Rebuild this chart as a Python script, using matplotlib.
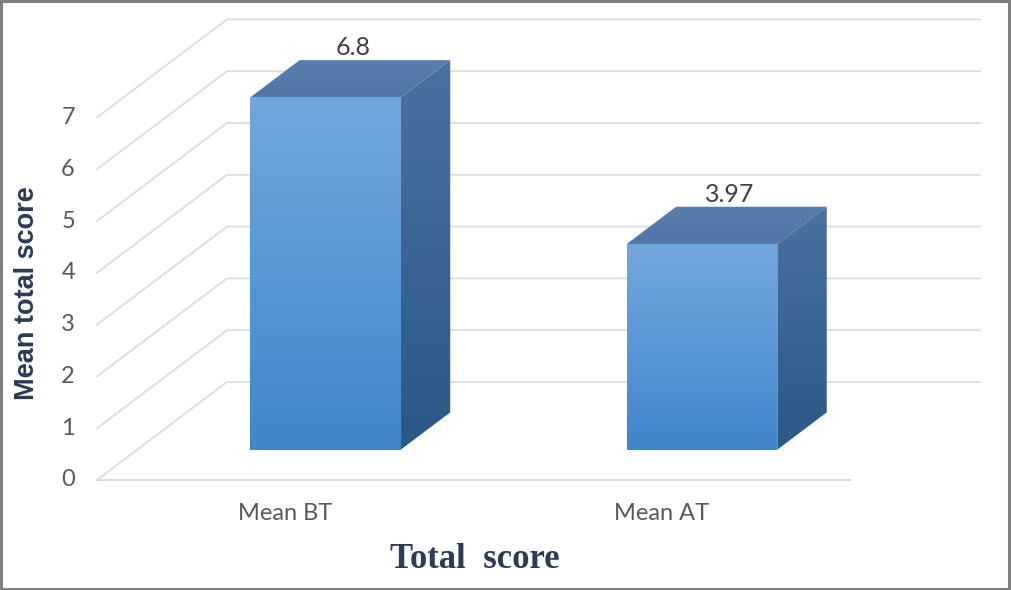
import numpy as np
import matplotlib.pyplot as plt
from matplotlib.patches import Polygon, Rectangle
from matplotlib.colors import LinearSegmentedColormap

categories = ['Mean BT', 'Mean AT']
values = [6.8, 3.97]
value_labels = ['6.8', '3.97']
y_ticks = [0, 1, 2, 3, 4, 5, 6, 7]

W, H = 1011, 590
fig = plt.figure(figsize=(W / 100, H / 100), dpi=100)
ax = fig.add_axes([0, 0, 1, 1])
ax.set_xlim(0, W)
ax.set_ylim(H, 0)
ax.axis('off')

# oblique (excel style) projection of the plot box, in pixels
x_left, x_right = 97, 850
y_base, unit = 480, 51.8
depth_dx, depth_dy = 130, -98
n = len(categories)


def proj(cat_pos, value, depth):
    x = x_left + cat_pos * (x_right - x_left) / n + depth * depth_dx
    y = y_base - value * unit + depth * depth_dy
    return x, y


grid_col = '#dcdcdc'
for v in y_ticks:
    pts = np.array([proj(0, v, 0), proj(0, v, 1), proj(n, v, 1)])
    ax.plot(pts[:, 0], pts[:, 1], color=grid_col, lw=1.3, zorder=1)
    tx, ty = proj(0, v, 0)
    ax.text(tx - 22, ty, str(v), ha='right', va='center', fontsize=17,
            color='#595959', family='Lato')
floor = np.array([proj(0, 0, 0), proj(n, 0, 0)])
ax.plot(floor[:, 0], floor[:, 1], color=grid_col, lw=1.5, zorder=1)


def grad_face(corners, c_top, c_bot, z):
    poly = Polygon(corners, closed=True, facecolor='none', edgecolor='none')
    ax.add_patch(poly)
    xs, ys = corners[:, 0], corners[:, 1]
    cmap = LinearSegmentedColormap.from_list('g', [c_top, c_bot])
    img = ax.imshow(np.linspace(0, 1, 256).reshape(-1, 1), cmap=cmap, aspect='auto',
                    extent=(xs.min(), xs.max(), ys.max(), ys.min()), zorder=z,
                    interpolation='bilinear')
    img.set_clip_path(poly)


half_w = 0.2
d0, d1 = 0.31, 0.69
for i, (cat, v, lab) in enumerate(zip(categories, values, value_labels)):
    l, r = i + 0.5 - half_w, i + 0.5 + half_w
    front = np.array([proj(l, 0, d0), proj(r, 0, d0), proj(r, v, d0), proj(l, v, d0)])
    side = np.array([proj(r, 0, d0), proj(r, 0, d1), proj(r, v, d1), proj(r, v, d0)])
    top = np.array([proj(l, v, d0), proj(r, v, d0), proj(r, v, d1), proj(l, v, d1)])
    grad_face(side, '#4a72a0', '#2b5886', 3)
    grad_face(front, '#72a7de', '#3f86cb', 4)
    grad_face(top, '#587ead', '#4f76a4', 4)

    lx, ly = proj(i + 0.5, v, 0.5)
    ax.text(lx + 3, ly - 31, lab, ha='center', va='center', fontsize=18,
            color='#404040', family='Lato', zorder=6)
    cx, cy = proj(i + 0.5, 0, 0)
    ax.text(cx, cy + 33, cat, ha='center', va='center', fontsize=17,
            color='#595959', family='Lato')

ax.text(27, 293, 'Mean total score', rotation=90, ha='center', va='center',
        fontsize=19.5, fontweight='bold', color='#2c3a56', family='Liberation Sans')
ax.text(475, 560, 'Total  score', ha='center', va='center', fontsize=25,
        fontweight='bold', color='#2e3b55', family='Liberation Serif')

ax.add_patch(Rectangle((0.5, 1), W - 2.5, H - 2.5, fill=False, edgecolor='#7f7f7f',
                       lw=2.2, zorder=10))

fig.savefig('out.png', dpi=100)
